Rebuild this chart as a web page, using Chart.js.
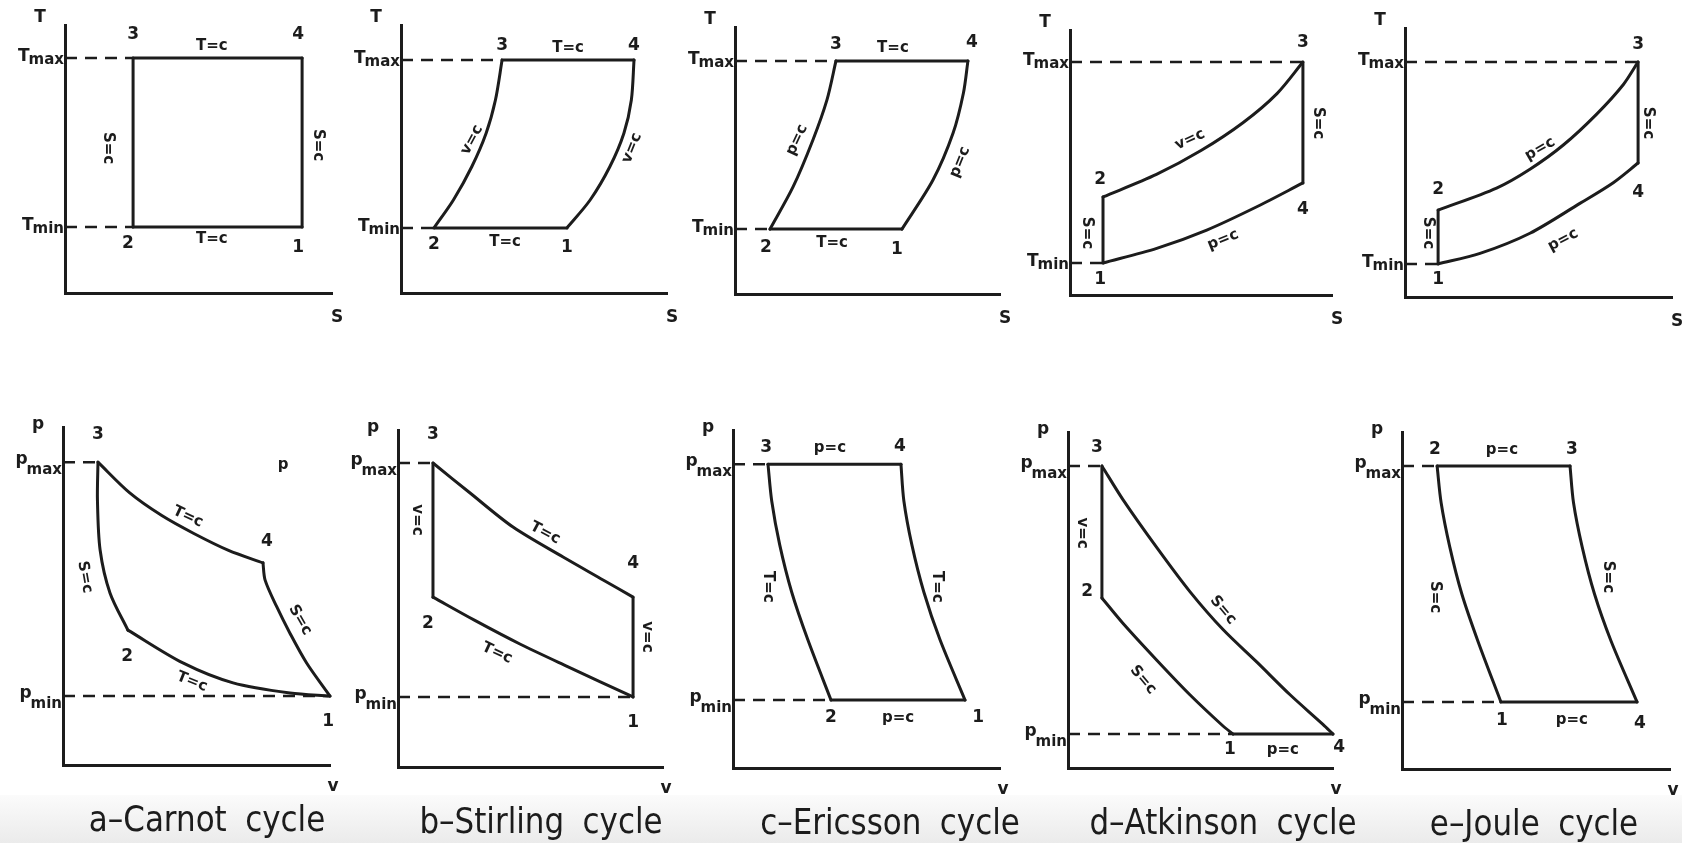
<!DOCTYPE html>
<html>
<head>
<meta charset="utf-8">
<script src="https://cdn.jsdelivr.net/npm/chart.js@4/dist/chart.umd.min.js"></script>
<style>
  html, body { margin: 0; padding: 0; background: #fff; }
  body { width: 1682px; height: 843px; position: relative; overflow: hidden; }
  #strip { position: absolute; left: 0; top: 795px; width: 1682px; height: 48px;
           background: linear-gradient(#fbfbfb, #ebebeb); }
  canvas { position: absolute; }
</style>
</head>
<body>
<div id="strip"></div>
<script>
// Valores em unidades de eixo (0..10 ao longo de cada eixo)
const cycleNames = ["a–Carnot cycle", "b–Stirling cycle", "c–Ericsson cycle", "d–Atkinson cycle", "e–Joule cycle"];

// ---- diagramas T-s ----
const carnotTsLines = [
  [[8.88, 2.46], [2.55, 2.46]],
  [[2.55, 2.46], [2.55, 8.77]],
  [[2.55, 8.77], [8.88, 8.77]],
  [[8.88, 8.77], [8.88, 2.46]]
];
const carnotTsRefs = [[[0, 8.77], [2.55, 8.77]], [[0, 2.46], [2.55, 2.46]]];
const carnotTsNotes = [
  ["3", 2.55, 9.63, 0], ["4", 8.73, 9.63, 0], ["T=c", 5.5, 9.2, 0], ["T=c", 5.5, 2.0, 0],
  ["2", 2.36, 1.83, 0], ["1", 8.73, 1.68, 0], ["S=c", 1.61, 5.41, 90], ["S=c", 9.48, 5.52, 90]
];

const stirlingTsLines = [
  [[6.24, 2.43], [1.24, 2.43]],
  [[1.24, 2.43], [1.97, 3.47], [2.66, 4.71], [3.20, 5.96], [3.55, 7.20], [3.80, 8.69]],
  [[3.80, 8.69], [8.76, 8.69]],
  [[8.76, 8.69], [8.66, 7.20], [8.38, 5.96], [7.85, 4.71], [7.11, 3.47], [6.24, 2.43]]
];
const stirlingTsRefs = [[[0, 8.69], [3.80, 8.69]], [[0, 2.43], [1.24, 2.43]]];
const stirlingTsNotes = [
  ["3", 3.80, 9.25, 0], ["T=c", 6.28, 9.14, 0], ["4", 8.76, 9.25, 0], ["T=c", 3.91, 1.90, 0],
  ["2", 1.24, 1.79, 0], ["1", 6.24, 1.68, 0], ["v=c", 2.67, 5.71, -62], ["v=c", 8.68, 5.41, -68]
];

const ericssonTsLines = [
  [[6.30, 2.43], [1.32, 2.43]],
  [[1.32, 2.43], [2.19, 4.01], [2.94, 5.77], [3.47, 7.27], [3.81, 8.73]],
  [[3.81, 8.73], [8.79, 8.73]],
  [[8.79, 8.73], [8.62, 7.53], [8.23, 6.03], [7.47, 4.27], [6.30, 2.43]]
];
const ericssonTsRefs = [[[0, 8.73], [3.81, 8.73]], [[0, 2.43], [1.32, 2.43]]];
const ericssonTsNotes = [
  ["3", 3.81, 9.33, 0], ["T=c", 5.96, 9.21, 0], ["4", 8.94, 9.40, 0], ["T=c", 3.66, 1.91, 0],
  ["2", 1.17, 1.72, 0], ["1", 6.11, 1.65, 0], ["p=c", 2.34, 5.77, -65], ["p=c", 8.49, 4.94, -68]
];

const atkinsonTsLines = [
  [[1.26, 1.21], [1.26, 3.70]],
  [[1.26, 3.70], [3.30, 4.55], [5.00, 5.45], [6.60, 6.50], [7.90, 7.60], [8.89, 8.79]],
  [[8.89, 8.79], [8.89, 4.23]],
  [[8.89, 4.23], [7.13, 3.33], [5.22, 2.45], [3.31, 1.76], [1.26, 1.21]]
];
const atkinsonTsRefs = [[[0, 8.79], [8.89, 8.79]], [[0, 1.21], [1.26, 1.21]]];
const atkinsonTsNotes = [
  ["3", 8.89, 9.51, 0], ["2", 1.15, 4.34, 0], ["4", 8.89, 3.21, 0], ["1", 1.15, 0.57, 0],
  ["v=c", 4.58, 5.86, -25], ["p=c", 5.84, 2.08, -22], ["S=c", 9.47, 6.49, 90], ["S=c", 0.65, 2.34, 90]
];

const jouleTsLines = [
  [[1.24, 1.23], [1.24, 3.23]],
  [[1.24, 3.23], [3.43, 4.05], [4.68, 4.75], [5.93, 5.65], [7.18, 6.80], [8.18, 7.90], [8.73, 8.74]],
  [[8.73, 8.74], [8.73, 4.98]],
  [[8.73, 4.98], [7.80, 4.25], [6.55, 3.48], [4.68, 2.37], [2.81, 1.62], [1.24, 1.23]]
];
const jouleTsRefs = [[[0, 8.74], [8.73, 8.74]], [[0, 1.23], [1.24, 1.23]]];
const jouleTsNotes = [
  ["3", 8.73, 9.37, 0], ["2", 1.24, 3.98, 0], ["4", 8.73, 3.87, 0], ["1", 1.24, 0.63, 0],
  ["p=c", 5.06, 5.50, -30], ["p=c", 5.92, 2.12, -28], ["S=c", 9.10, 6.47, 90], ["S=c", 0.86, 2.38, 90]
];

// ---- diagramas p-v ----
const carnotPvLines = [
  [[1.31, 8.96], [2.50, 8.05], [3.70, 7.38], [4.90, 6.85], [6.20, 6.35], [7.49, 5.98]],
  [[7.49, 5.98], [7.57, 5.47], [8.00, 4.69], [8.50, 3.90], [9.13, 3.01], [10.0, 2.04]],
  [[10.0, 2.04], [8.50, 2.13], [6.37, 2.43], [4.49, 3.02], [2.43, 3.99]],
  [[2.43, 3.99], [1.76, 5.09], [1.39, 6.36], [1.29, 7.84], [1.31, 8.96]]
];
const carnotPvRefs = [[[0, 8.96], [1.31, 8.96]], [[0, 2.04], [10.0, 2.04]]];
const carnotPvNotes = [
  ["3", 1.31, 9.79, 0], ["4", 7.64, 6.60, 0], ["2", 2.40, 3.20, 0], ["1", 9.93, 1.27, 0],
  ["T=c", 4.68, 7.34, 25], ["S=c", 0.82, 5.56, 80], ["S=c", 8.88, 4.29, 60], ["T=c", 4.83, 2.46, 22],
  ["p", 8.24, 8.88, 0]
];

const stirlingPvLines = [
  [[1.32, 9.02], [2.72, 8.13], [4.34, 7.12], [6.23, 6.23], [7.74, 5.55], [8.87, 5.04]],
  [[8.87, 5.04], [8.87, 2.08]],
  [[8.87, 2.08], [6.40, 2.98], [4.60, 3.65], [2.90, 4.35], [1.32, 5.04]],
  [[1.32, 5.04], [1.32, 9.02]]
];
const stirlingPvRefs = [[[0, 9.02], [1.32, 9.02]], [[0, 2.08], [8.87, 2.08]]];
const stirlingPvNotes = [
  ["3", 1.32, 9.85, 0], ["4", 8.87, 6.05, 0], ["2", 1.13, 4.27, 0], ["1", 8.87, 1.31, 0],
  ["T=c", 5.55, 6.94, 28], ["T=c", 3.74, 3.38, 25], ["v=c", 0.72, 7.33, 90], ["v=c", 9.40, 3.86, 90]
];

const ericssonPvLines = [
  [[1.31, 8.99], [6.29, 8.99]],
  [[6.29, 8.99], [6.40, 7.90], [6.70, 6.60], [7.15, 5.20], [7.75, 3.80], [8.69, 2.01]],
  [[8.69, 2.01], [3.67, 2.01]],
  [[3.67, 2.01], [2.80, 3.80], [2.20, 5.20], [1.75, 6.60], [1.45, 7.90], [1.31, 8.99]]
];
const ericssonPvRefs = [[[0, 8.99], [1.31, 8.99]], [[0, 2.01], [3.67, 2.01]]];
const ericssonPvNotes = [
  ["3", 1.24, 9.47, 0], ["p=c", 3.63, 9.47, 0], ["4", 6.25, 9.50, 0], ["2", 3.67, 1.48, 0],
  ["p=c", 6.18, 1.48, 0], ["1", 9.18, 1.48, 0], ["T=c", 1.31, 5.36, 90], ["T=c", 7.64, 5.36, 90]
];

const atkinsonPvLines = [
  [[1.28, 5.06], [1.28, 8.99]],
  [[1.28, 8.99], [2.08, 7.98], [3.36, 6.55], [4.60, 5.25], [5.85, 4.12], [7.13, 3.15], [8.38, 2.18], [9.62, 1.30], [10.0, 1.01]],
  [[10.0, 1.01], [6.23, 1.01]],
  [[6.23, 1.01], [5.85, 1.25], [4.60, 2.18], [3.36, 3.20], [2.08, 4.30], [1.28, 5.06]]
];
const atkinsonPvRefs = [[[0, 8.99], [1.28, 8.99]], [[0, 1.01], [6.23, 1.01]]];
const atkinsonPvNotes = [
  ["3", 1.09, 9.55, 0], ["2", 0.72, 5.24, 0], ["1", 6.11, 0.54, 0], ["p=c", 8.11, 0.54, 0],
  ["4", 10.23, 0.60, 0], ["S=c", 5.85, 4.70, 50], ["S=c", 2.83, 2.62, 50], ["v=c", 0.53, 6.99, 90]
];

const joulePvLines = [
  [[1.31, 8.99], [6.27, 8.99]],
  [[6.27, 8.99], [6.40, 7.90], [6.72, 6.60], [7.18, 5.20], [7.80, 3.80], [8.77, 1.99]],
  [[8.77, 1.99], [3.69, 1.99]],
  [[3.69, 1.99], [2.83, 3.80], [2.23, 5.20], [1.78, 6.60], [1.46, 7.90], [1.31, 8.99]]
];
const joulePvRefs = [[[0, 8.99], [1.31, 8.99]], [[0, 1.99], [3.69, 1.99]]];
const joulePvNotes = [
  ["2", 1.23, 9.47, 0], ["p=c", 3.73, 9.47, 0], ["3", 6.34, 9.47, 0], ["1", 3.73, 1.45, 0],
  ["p=c", 6.34, 1.45, 0], ["4", 8.88, 1.36, 0], ["S=c", 1.23, 5.10, 90], ["S=c", 7.69, 5.70, 90]
];

// posição de cada painel na página: [esquerda do eixo, topo do eixo, largura, altura, centro do título]
const panelBoxes = [
  [65, 25, 267, 268], [401, 25, 266, 268], [735, 27, 265, 267], [1070, 30, 262, 265], [1405, 28, 267, 269],
  [63, 427, 267, 338, 207], [398, 430, 265, 337, 541], [733, 430, 267, 338, 890], [1068, 432, 265, 336, 1223], [1402, 432, 268, 337, 1534]
];

const INK = "#1c1c1c";
const PAD = { l: 75, t: 40, r: 30 };
const FONT = '"DejaVu Sans", "Liberation Sans", sans-serif';

const panels = [
  { lines: carnotTsLines, refs: carnotTsRefs, notes: carnotTsNotes, axes: ["S", "T"] },
  { lines: stirlingTsLines, refs: stirlingTsRefs, notes: stirlingTsNotes, axes: ["S", "T"] },
  { lines: ericssonTsLines, refs: ericssonTsRefs, notes: ericssonTsNotes, axes: ["S", "T"] },
  { lines: atkinsonTsLines, refs: atkinsonTsRefs, notes: atkinsonTsNotes, axes: ["S", "T"] },
  { lines: jouleTsLines, refs: jouleTsRefs, notes: jouleTsNotes, axes: ["S", "T"] },
  { lines: carnotPvLines, refs: carnotPvRefs, notes: carnotPvNotes, axes: ["v", "p"], title: cycleNames[0] },
  { lines: stirlingPvLines, refs: stirlingPvRefs, notes: stirlingPvNotes, axes: ["v", "p"], title: cycleNames[1] },
  { lines: ericssonPvLines, refs: ericssonPvRefs, notes: ericssonPvNotes, axes: ["v", "p"], title: cycleNames[2] },
  { lines: atkinsonPvLines, refs: atkinsonPvRefs, notes: atkinsonPvNotes, axes: ["v", "p"], title: cycleNames[3] },
  { lines: joulePvLines, refs: joulePvRefs, notes: joulePvNotes, axes: ["v", "p"], title: cycleNames[4] }
];

function drawText(ctx, text, px, py, deg, font) {
  ctx.save();
  ctx.translate(px, py);
  ctx.rotate(deg * Math.PI / 180);
  ctx.font = font;
  ctx.textAlign = "center";
  ctx.textBaseline = "middle";
  ctx.fillText(text, 0, 0);
  ctx.restore();
}

function notesPlugin(panel, box) {
  return {
    id: "notes",
    afterDraw(chart) {
      const { ctx, chartArea: area, scales: { x, y } } = chart;
      ctx.save();
      ctx.fillStyle = INK;

      // rótulos dos pontos e processos
      panel.notes.forEach(([text, vx, vy, deg]) => {
        const isNum = /^\d$/.test(text);
        const font = (isNum ? "bold 17px " : "bold 15px ") + FONT;
        drawText(ctx, text, x.getPixelForValue(vx), y.getPixelForValue(vy), deg, font);
      });

      // Tmax / Tmin, pmax / pmin
      const isP = panel.axes[1] === "p";
      ["max", "min"].forEach((sub, i) => {
        const py = y.getPixelForValue(panel.refs[i][0][1]);
        ctx.textBaseline = "alphabetic";
        ctx.textAlign = "right";
        ctx.font = "bold 15px " + FONT;
        const subW = ctx.measureText(sub).width;
        const right = area.left - 1;
        ctx.fillText(sub, right, py + (isP ? 12 : 6));
        ctx.font = "bold 17px " + FONT;
        ctx.fillText(panel.axes[1], right - subW + 1, py + (isP ? 2 : 3));
      });

      // nomes dos eixos
      ctx.textAlign = "center";
      ctx.textBaseline = "middle";
      ctx.font = "bold 17px " + FONT;
      ctx.fillText(panel.axes[1], area.left - 25, area.top - (isP ? 2 : 7));
      ctx.fillText(panel.axes[0], area.right + (isP ? 3 : 5), area.bottom + (isP ? 22 : 25));

      // nome do ciclo
      if (panel.title) {
        ctx.translate(area.left + (box[4] - box[0]), area.bottom + 66);
        ctx.scale(0.86, 1);
        ctx.font = "36px " + FONT;
        ctx.wordSpacing = "10px";
        ctx.textAlign = "center";
        ctx.textBaseline = "alphabetic";
        ctx.fillText(panel.title, 0, 0);
      }
      ctx.restore();
    }
  };
}

function axisOptions() {
  return {
    type: "linear",
    min: 0,
    max: 10,
    ticks: { display: false },
    grid: { display: false, drawTicks: false },
    border: { display: true, color: INK, width: 3 }
  };
}

panels.forEach((panel, i) => {
  const box = panelBoxes[i];
  const [x0, yTop, w, h] = box;
  const padB = panel.title ? 80 : 45;
  const canvas = document.createElement("canvas");
  canvas.width = w + PAD.l + PAD.r;
  canvas.height = h + PAD.t + padB;
  canvas.style.left = (x0 - PAD.l) + "px";
  canvas.style.top = (yTop - PAD.t) + "px";
  document.body.appendChild(canvas);

  const datasets = [];
  panel.lines.forEach((pts) => {
    datasets.push({
      data: pts.map(([vx, vy]) => ({ x: vx, y: vy })),
      showLine: true,
      borderColor: INK,
      borderWidth: 3,
      tension: pts.length > 2 ? 0.3 : 0,
      pointRadius: 0,
      borderCapStyle: "round",
      borderJoinStyle: "round",
      clip: false
    });
  });
  panel.refs.forEach((pts) => {
    datasets.push({
      data: pts.map(([vx, vy]) => ({ x: vx, y: vy })),
      showLine: true,
      borderColor: INK,
      borderWidth: 2.5,
      borderDash: [12, 8],
      tension: 0,
      pointRadius: 0,
      clip: false
    });
  });

  new Chart(canvas, {
    type: "scatter",
    data: { datasets },
    options: {
      responsive: false,
      animation: false,
      devicePixelRatio: 1,
      layout: { padding: { left: PAD.l, top: PAD.t, right: PAD.r, bottom: padB } },
      scales: { x: axisOptions(), y: axisOptions() },
      plugins: { legend: { display: false }, tooltip: { enabled: false } }
    },
    plugins: [notesPlugin(panel, box)]
  });
});
</script>
</body>
</html>
